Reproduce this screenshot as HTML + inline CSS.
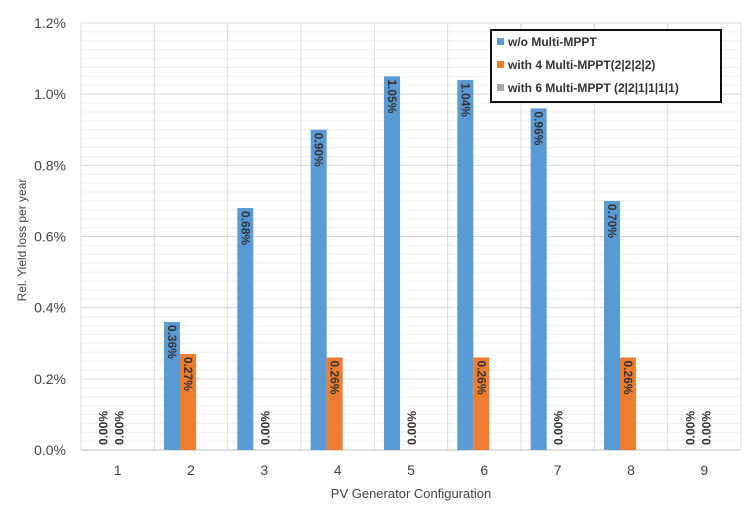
<!DOCTYPE html>
<html><head><meta charset="utf-8"><style>
body{margin:0;background:#fff;}
svg text{font-family:"Liberation Sans",sans-serif;}
</style></head><body>
<svg width="749" height="506" viewBox="0 0 749 506" xmlns="http://www.w3.org/2000/svg">
<rect width="749" height="506" fill="#fff"/>
<g id="grid"></g>
<g id="bars"></g>
<rect x="491" y="30" width="230" height="72" fill="#fff" stroke="#111" stroke-width="2"/>
<rect x="497" y="38" width="7" height="7" fill="#5b9bd5"/>
<text x="508" y="46" font-size="12" font-weight="bold" fill="#333">w/o Multi-MPPT</text>
<rect x="497" y="61" width="7" height="7" fill="#ed7d31"/>
<text x="508" y="69" font-size="12" font-weight="bold" fill="#333">with 4 Multi-MPPT(2|2|2|2)</text>
<rect x="497" y="84" width="7" height="7" fill="#a5a5a5"/>
<text x="508" y="92" font-size="12" font-weight="bold" fill="#333">with 6 Multi-MPPT (2|2|1|1|1|1)</text>
<text x="411" y="498" font-size="13" fill="#444" text-anchor="middle">PV Generator Configuration</text>
<text transform="translate(26,240) rotate(-90)" font-size="12" fill="#444" text-anchor="middle">Rel.  Yield loss per year</text>
</svg>
<script>
var ns="http://www.w3.org/2000/svg";
function el(p,t,a,txt){var e=document.createElementNS(ns,t);for(var k in a)e.setAttribute(k,a[k]);if(txt!=null)e.textContent=txt;document.getElementById(p).appendChild(e);}
var L=81,R=741,T=23,B=450,W=(R-L)/9,S=(B-T)/1.2;
for(var i=1;i<48;i++){var y=B-i*S*0.025;el("grid","line",{x1:L,x2:R,y1:y,y2:y,stroke:i%8==0?"#d9d9d9":"#f0f0f0","stroke-width":1});}
el("grid","line",{x1:L,x2:R,y1:T,y2:T,stroke:"#d9d9d9"});
for(var i=0;i<=9;i++){var x=L+i*W;el("grid","line",{x1:x,x2:x,y1:T,y2:B,stroke:"#d9d9d9"});}
el("grid","line",{x1:L,x2:R,y1:B,y2:B,stroke:"#bfbfbf"});
for(var i=0;i<=6;i++){el("grid","text",{x:66,y:B-i*0.2*S+5,"font-size":14,fill:"#444","text-anchor":"end"},(i*0.2).toFixed(1)+"%");}
for(var i=1;i<=9;i++){el("grid","text",{x:L+(i-0.5)*W,y:475,"font-size":14,fill:"#444","text-anchor":"middle"},i);}
var blue=[0,0.36,0.68,0.90,1.05,1.04,0.96,0.70,0];
var org=[0,0.27,0,0.26,0,0.26,0,0.26,0];
for(var i=0;i<9;i++){var c=L+(i+0.5)*W;
 [[blue[i],-27,"#5b9bd5"],[org[i],-11,"#ed7d31"]].forEach(function(s){
  var v=s[0],x0=c+s[1],cx=x0+8;
  if(v>0){var h=v*S;el("bars","rect",{x:x0,y:B-h,width:16,height:h,fill:s[2]});
   el("bars","text",{transform:"translate("+(cx-4)+","+(B-h+3)+") rotate(90)","font-size":12,fill:"#333","font-weight":"bold"},v.toFixed(2)+"%");}
  else if(i==0||i==8||s[1]==-11){var lx;if(i==0||i==8)lx=cx+5;else lx=c+1;
   el("bars","text",{transform:"translate("+(lx+4)+","+(B-5)+") rotate(-90)","font-size":12,fill:"#333","font-weight":"bold"},"0.00%");}
 });}
</script>
</body></html>
